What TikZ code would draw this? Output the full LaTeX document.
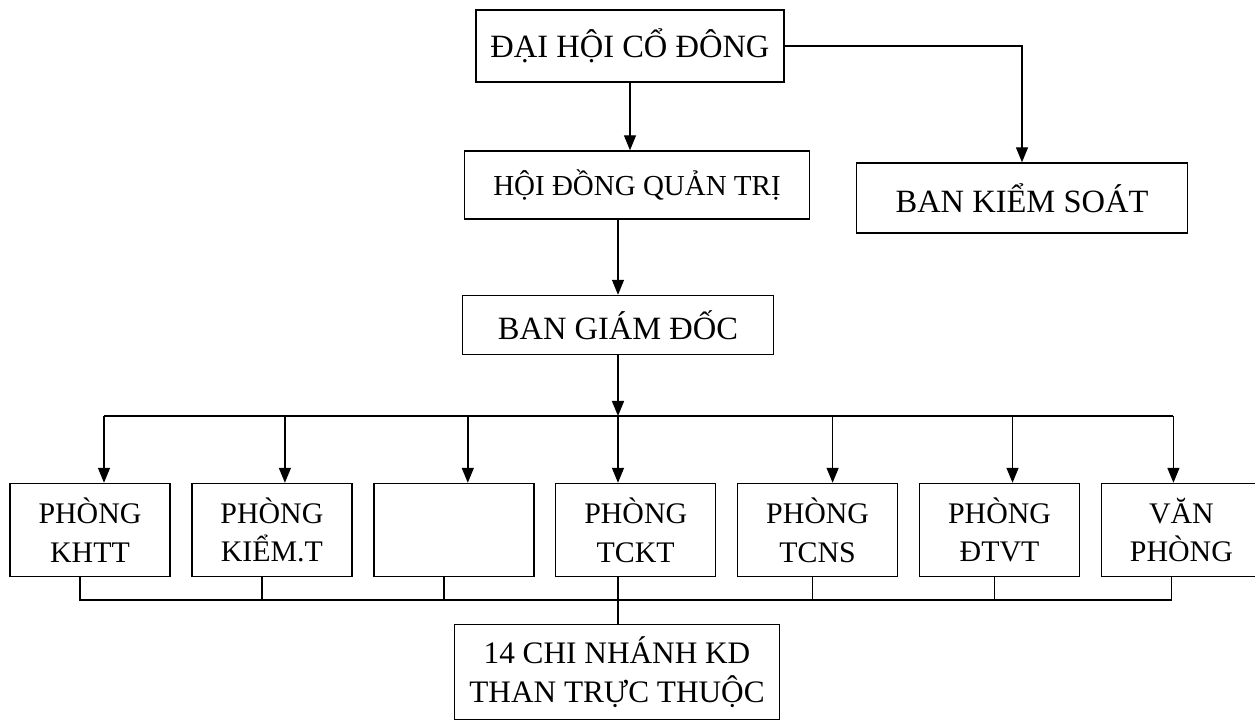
\documentclass[tikz,border=0pt]{standalone}
\usepackage{fontspec}
\setmainfont{Liberation Serif}
\usetikzlibrary{arrows.meta, positioning}

\begin{document}
\begin{tikzpicture}[
    node distance=0.41cm,
    unit/.style={draw, line width=0.8pt, align=center, font=\fontsize{18.5}{22}\selectfont, inner sep=2pt},
    phong/.style={unit, font=\fontsize{17}{22}\selectfont, minimum width=3.2cm, minimum height=1.86cm},
    arrow/.style={-{Triangle[length=3mm, width=2.4mm]}, line width=0.8pt},
    link/.style={line width=0.8pt}
]
\useasboundingbox (0,0) rectangle (25.1,14.54);

\node[unit, minimum width=6.16cm, minimum height=1.44cm] (dhcd) at (12.6,13.62) {ĐẠI HỘI CỔ ĐÔNG};
\node[unit, font=\fontsize{16.5}{22}\selectfont, minimum width=6.9cm, minimum height=1.36cm] (hdqt) at (12.74,10.84) {HỘI ĐỒNG QUẢN TRỊ};
\node[unit, minimum width=6.62cm, minimum height=1.4cm] (bks) at (20.44,10.58) {BAN KIỂM SOÁT};
\node[unit, minimum width=6.22cm, minimum height=1.18cm] (bgd) at (12.36,8.04) {BAN GIÁM ĐỐC};

\node[phong] (khtt) at (1.8,3.94) {PHÒNG\\KHTT};
\node[phong, right=of khtt] (kiem) {PHÒNG\\KIỂM.T};
\node[phong, right=of kiem] (trong) {};
\node[phong, right=of trong] (tckt) {PHÒNG\\TCKT};
\node[phong, right=of tckt] (tcns) {PHÒNG\\TCNS};
\node[phong, right=of tcns] (dtvt) {PHÒNG\\ĐTVT};
\node[phong, right=of dtvt] (vp) {VĂN\\PHÒNG};

\node[unit, font=\fontsize{17.8}{22}\selectfont, minimum width=6.5cm, minimum height=1.9cm] (cn) at (12.34,1.1) {14 CHI NHÁNH KD\\THAN TRỰC THUỘC};

\coordinate (bus) at (12.36,6.22);
\coordinate (base) at (12.36,2.54);

\draw[arrow] (dhcd.south) -- (dhcd.south |- hdqt.north);
\draw[arrow] (dhcd.east) -| (bks.north);
\draw[arrow] (bgd.north |- hdqt.south) -- (bgd.north);
\draw[arrow] (bgd.south) -- (bus);
\draw[arrow] (bus) -- (bus |- tckt.north);

% thanh ngang tren
\draw[link] ([xshift=0.28cm]khtt.north |- bus) -- ([xshift=-0.16cm]vp.north |- bus);
\draw[arrow] ([xshift=0.28cm]khtt.north |- bus) -- ([xshift=0.28cm]khtt.north);
\draw[arrow] ([xshift=0.26cm]kiem.north |- bus) -- ([xshift=0.26cm]kiem.north);
\draw[arrow] ([xshift=0.28cm]trong.north |- bus) -- ([xshift=0.28cm]trong.north);
\draw[arrow] ([xshift=0.3cm]tcns.north |- bus) -- ([xshift=0.3cm]tcns.north);
\draw[arrow] ([xshift=0.26cm]dtvt.north |- bus) -- ([xshift=0.26cm]dtvt.north);
\draw[arrow] ([xshift=-0.16cm]vp.north |- bus) -- ([xshift=-0.16cm]vp.north);

% thanh ngang duoi
\draw[link] ([xshift=-0.2cm]khtt.south) -- ([xshift=-0.2cm]khtt.south |- base) -- ([xshift=-0.2cm]vp.south |- base) -- ([xshift=-0.2cm]vp.south);
\draw[link] ([xshift=-0.2cm]kiem.south) -- ([xshift=-0.2cm]kiem.south |- base);
\draw[link] ([xshift=-0.2cm]trong.south) -- ([xshift=-0.2cm]trong.south |- base);
\draw[link] ([xshift=-0.1cm]tcns.south) -- ([xshift=-0.1cm]tcns.south |- base);
\draw[link] ([xshift=-0.1cm]dtvt.south) -- ([xshift=-0.1cm]dtvt.south |- base);
\draw[link] (base |- tckt.south) -- (base |- cn.north);

\end{tikzpicture}
\end{document}
